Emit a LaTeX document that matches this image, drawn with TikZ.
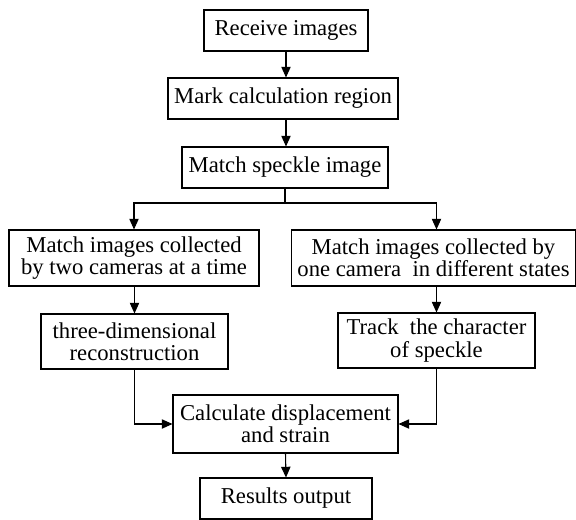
\documentclass[tikz,border=0pt]{standalone}
\usepackage{fontspec}
\setmainfont{Liberation Serif}
\usetikzlibrary{arrows.meta}
\begin{document}
\begin{tikzpicture}[
    x=0.75pt, y=-0.75pt,
    every node/.style={align=center, font=\fontsize{17}{16.7}\selectfont},
    stepbox/.style={draw, line width=0.8pt, inner sep=1pt},
    flow arrow/.style={draw, line width=0.8pt, -{Triangle[length=8pt,width=7pt]}},
    flow line/.style={draw, line width=0.8pt},
    ]
\useasboundingbox (0,0) rectangle (576,519);
\node[stepbox, minimum width=164*0.75pt, minimum height=41*0.75pt] (recv) at (286,30.5) {Receive images};
\node[stepbox, minimum width=230*0.75pt, minimum height=41*0.75pt] (mark) at (283,98.5) {Mark calculation region};
\node[stepbox, minimum width=206*0.75pt, minimum height=41*0.75pt] (speckle) at (285,167.5) {Match speckle image};
\draw[flow arrow] (recv) -- (recv |- mark.north);
\draw[flow arrow] (mark.south -| recv) -- (recv |- speckle.north);
\coordinate (split) at (285,203);
\node[stepbox, minimum width=250*0.75pt, minimum height=56*0.75pt] (twocam) at (134,258) {Match images collected\\by two cameras at a time};
\node[stepbox, minimum width=284*0.75pt, minimum height=56*0.75pt] (onecam) at (433.5,258) {Match images collected by\\one camera\ \ in different states};
\node[stepbox, minimum width=187*0.75pt, minimum height=55*0.75pt] (recon) at (134.5,341.5) {three-dimensional\\reconstruction};
\node[stepbox, minimum width=197*0.75pt, minimum height=55*0.75pt] (track) at (436.5,340.5) {Track\ \ the character\\of speckle};
\draw[flow line] (speckle.south) -- (split);
\draw[flow arrow] (split) -| (twocam.north);
\draw[flow arrow] (split) -| (track.north |- onecam.north);
\draw[flow arrow] (twocam.south -| recon) -- (recon.north);
\draw[flow arrow] (onecam.south -| track) -- (track.north);
\node[stepbox, minimum width=225*0.75pt, minimum height=58*0.75pt] (calc) at (285.5,424) {Calculate displacement\\and strain};
\node[stepbox, minimum width=172*0.75pt, minimum height=41*0.75pt] (result) at (286,498.5) {Results output};
\draw[flow arrow] (recon.south) |- (calc.west);
\draw[flow arrow] (track.south) |- (calc.east);
\draw[flow arrow] (calc.south) -- (result.north);
\end{tikzpicture}
\end{document}
